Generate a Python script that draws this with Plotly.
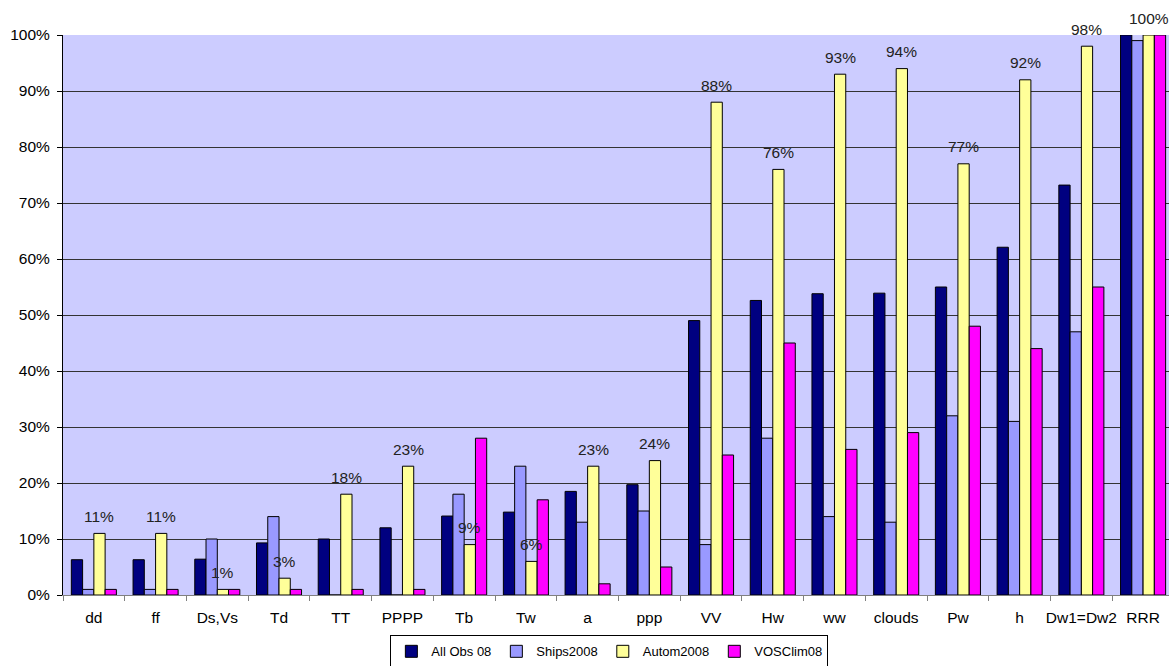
import plotly.graph_objects as go

categories = ["dd", "ff", "Ds,Vs", "Td", "TT", "PPPP", "Tb", "Tw", "a", "ppp",
              "VV", "Hw", "ww", "clouds", "Pw", "h", "Dw1=Dw2", "RRR"]

# shares in percent per element
all_obs_08 = [6.3, 6.3, 6.4, 9.3, 10.0, 12.0, 14.1, 14.8, 18.5, 19.7,
              49.0, 52.6, 53.8, 53.9, 55.0, 62.1, 73.2, 100.0]
ships_2008 = [1, 1, 10, 14, 0, 0, 18, 23, 13, 15,
              9, 28, 14, 13, 32, 31, 47, 99]
autom_2008 = [11, 11, 1, 3, 18, 23, 9, 6, 23, 24,
              88, 76, 93, 94, 77, 92, 98, 100]
vosclim_08 = [1, 1, 1, 1, 1, 1, 28, 17, 2, 5,
              25, 45, 26, 29, 48, 44, 55, 100]

series = [
    ("All Obs 08", all_obs_08, "#000080"),
    ("Ships2008", ships_2008, "#9999FF"),
    ("Autom2008", autom_2008, "#FFFF99"),
    ("VOSClim08", vosclim_08, "#FF00FF"),
]

FONT = "Liberation Sans, Arial, sans-serif"

fig = go.Figure()
for name, vals, color in series:
    fig.add_trace(go.Bar(
        name=name,
        x=categories,
        y=[v / 100 for v in vals],
        marker=dict(color=color, line=dict(color="#000000", width=1)),
    ))

# percentage labels above the Autom2008 bars
for cat, v in zip(categories, autom_2008):
    fig.add_annotation(
        x=cat, y=v / 100, xref="x", yref="y",
        text=f"{v:.0f}%", showarrow=False,
        xshift=5.6, yshift=17,
        font=dict(family=FONT, size=15.5, color="#222222"),
    )

fig.update_layout(
    width=1169, height=666,
    margin=dict(l=63, r=0, t=35, b=71, autoexpand=False),
    paper_bgcolor="#FFFFFF",
    plot_bgcolor="#CCCCFF",
    barmode="group",
    bargap=0.27,
    bargroupgap=0,
    font=dict(family=FONT, size=15, color="#000000"),
    showlegend=True,
    legend=dict(
        orientation="h",
        xref="paper", x=0.494, xanchor="center",
        yref="container", y=0.046, yanchor="top",
        bordercolor="#000000", borderwidth=1, bgcolor="#FFFFFF",
        font=dict(family=FONT, size=13),
        itemwidth=30,
        tracegroupgap=0,
        traceorder="normal",
    ),
    xaxis=dict(
        type="category",
        range=[-0.5, 17.42],
        tickson="boundaries",
        tickangle=0,
        automargin=False,
        ticklabelstandoff=8,
        ticks="outside", ticklen=5, tickcolor="#808080",
        showline=True, linecolor="#808080", linewidth=1,
        showgrid=False,
        tickfont=dict(family=FONT, size=15.5),
    ),
    yaxis=dict(
        range=[0, 1],
        dtick=0.1,
        tickformat=".0%",
        automargin=False,
        ticklabelstandoff=4,
        ticks="outside", ticklen=5, tickcolor="#000000",
        showline=True, linecolor="#000000", linewidth=1,
        showgrid=True, gridcolor="#333333", gridwidth=1,
        zeroline=False,
        tickfont=dict(family=FONT, size=15.5),
    ),
)

fig.write_html("out.html")
